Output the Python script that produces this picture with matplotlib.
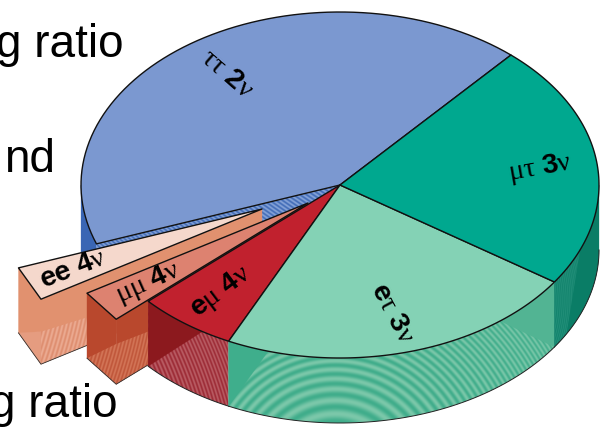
import numpy as np
import matplotlib
matplotlib.use("Agg")
import matplotlib.pyplot as plt
from matplotlib.patches import Polygon

matplotlib.rcParams.update({
    'font.family': 'Liberation Sans',
    'mathtext.fontset': 'custom',
    'mathtext.rm': 'Liberation Sans',
    'mathtext.it': 'Liberation Serif',
    'mathtext.bf': 'Liberation Sans:bold',
})

# decay channels, counter-clockwise starting at the blue slice
channels = ["tautau", "ee", "mumu", "emu", "etau", "mutau"]
fractions = [42.0, 3.2, 3.0, 6.2, 22.6, 23.0]
slice_labels = [r"$\tau\tau\ \mathbf{2}\nu$", r"$\mathbf{ee\ 4}\nu$",
                r"$\mu\mu\ \mathbf{4}\nu$", r"$\mathbf{e}\mu\ \mathbf{4}\nu$",
                r"$\mathbf{e}\tau\ \mathbf{3}\nu$", r"$\mu\tau\ \mathbf{3}\nu$"]
label_radius = [0.78, 0.81, 0.77, 0.77, 0.77, 0.78]
label_rotation = [-41, 21, 24, 37, -62, 10]
top_colors = ["#7b98d0", "#f5d8cc", "#dd8270", "#c1212e", "#84d2b5", "#00a88f"]
explode = {"ee": (-78, 24), "mumu": (-32, 18)}

CX, CY, RX, RY = 340, 185, 259, 173
DEPTH = 65
START = 48.7

angles = START + np.cumsum([0] + fractions) * 3.6
span = {name: (angles[i], angles[i + 1]) for i, name in enumerate(channels)}

fig = plt.figure(figsize=(6.05, 4.32), dpi=100)
ax = fig.add_axes([0, 0, 1, 1])
ax.axis("off")

yy, xx = np.mgrid[0:432:0.5, 0:605:0.5]


def pt(theta, shift=(0, 0), depth=0.0):
    t = np.radians(theta)
    return np.array([CX + RX * np.cos(t) + shift[0],
                     CY - RY * np.sin(t) + shift[1] + depth * DEPTH])


def arc(a, b, shift=(0, 0), depth=0.0, n=60):
    return np.array([pt(t, shift, depth) for t in np.linspace(a, b, n)])


def solid(points, color, edge=None, lw=0.9):
    ax.add_patch(Polygon(points, closed=True, facecolor=color,
                         edgecolor=edge if edge else color,
                         linewidth=lw if edge else 0.2, joinstyle='round',
                         zorder=1))


def rings(points, center, k, dark, light):
    # fine interference-like stripes painted inside a polygon
    r2 = (xx - center[0]) ** 2 + (yy - center[1]) ** 2
    w = 0.5 + 0.5 * np.sin(k * r2)
    c0 = np.array(matplotlib.colors.to_rgb(dark))
    c1 = np.array(matplotlib.colors.to_rgb(light))
    rgb = c0 + (c1 - c0) * w[..., None]
    clip = Polygon(points, closed=True, transform=ax.transData,
                   facecolor='none', edgecolor='none', zorder=1)
    ax.add_patch(clip)
    im = ax.imshow(rgb, extent=(0, 605, 432, 0), origin='upper',
                   interpolation='bilinear', aspect='auto', zorder=1)
    im.set_clip_path(clip)


def outer_wall(a, b):
    return np.vstack([arc(a, b), arc(b, a, depth=1.0)])


def wall_outline(a, b):
    bottom = arc(a, b, depth=1.0)
    ax.plot(bottom[:, 0], bottom[:, 1], color="#222222", lw=0.7, zorder=1)


def top_face(name, color, n=80):
    a, b = span[name]
    s = explode.get(name, (0, 0))
    # the pulled-out slices are thin enough to have a straight outer edge
    edge = arc(a, b, s, n=2 if name in explode else n)
    apex = np.array([CX + s[0], CY + s[1]])
    solid(np.vstack([[apex], edge]), color, edge="#111111", lw=1.0)


def lerp(p, q, t):
    return p + (q - p) * t


def pulled_slice(name, wall, left_low, stripe_low, stripe_high, tip_t, f0, f1):
    # side faces and lower stripes of one pulled-out slice
    a, b = span[name]
    s = explode[name]
    apex = np.array([CX + s[0], CY + s[1]], dtype=float)
    p1, p2 = pt(a, s), pt(b, s)
    d = np.array([0, DEPTH])
    solid([p1, p2, p2 + d, p1 + d], wall)
    solid([p2, apex, apex + d, p2 + d], wall)
    tip = lerp(p2, apex, tip_t)
    if left_low:
        solid([p1 + d, p2 + d, p2 + f0 * d], left_low)
        rings([p2 + f0 * d, tip + f1 * d, tip + d, p2 + d],
              (-300, 240), 0.0021, stripe_low, stripe_high)
    else:
        rings([p1 + d, p2 + f0 * d, tip + f1 * d, tip + d, p2 + d],
              (-300, 240), 0.0021, stripe_low, stripe_high)
    ax.plot(*np.array([p1 + d, p2 + d, tip + d]).T, color="#333333", lw=0.6,
            zorder=1)


# blue slice: outer wall at far left and the inner cut face
a, b = span["tautau"]
solid(outer_wall(180, b), "#3a66b4")
cut = [pt(b), [CX, CY], [CX, CY + DEPTH], pt(b, depth=1.0)]
rings(cut, (900, -700), 0.0008, "#3a66b4", "#8eaadc")
top_face("tautau", top_colors[0])

# pulled-out slices
pulled_slice("ee", "#e1916f", "#e59c80", "#dd8b6c", "#edae96", 0.3, 0.5, 0.6)
top_face("ee", top_colors[1])
pulled_slice("mumu", "#b9482d", None, "#bd5236", "#d67a5c", 0.17, 0.38, 0.49)
top_face("mumu", top_colors[2])

# e-mu wall
a, b = span["emu"]
rings(outer_wall(a, b), (-200, 520), 0.0021, "#992530", "#bd636a")
solid(np.vstack([arc(a, 237.9), [pt(a, depth=1.0)]]), "#8c191e")
wall_outline(a, b)
top_face("emu", top_colors[3])

# e-tau wall
a, b = span["etau"]
rings(outer_wall(a, b), (335, 480), 0.0032, "#40ad8b", "#7cc8aa")
solid(np.vstack([arc(a, 253.9), [pt(a, depth=1.0)]]), "#3fae8c")
solid(np.vstack([arc(308.2, b), [pt(b, depth=1.0)]]), "#52b493")
wall_outline(a, b)
top_face("etau", top_colors[4])

# mu-tau wall
a, b = span["mutau"]
solid(outer_wall(a, 360), "#0a7d66")
rings(np.vstack([arc(a, 338), [pt(331, depth=1.0)], [pt(a, depth=1.0)]]),
      (430, 300), 0.012, "#0a7d66", "#2b9680")
wall_outline(a, 360)
top_face("mutau", top_colors[5])

# channel names on the top faces
for i, name in enumerate(channels):
    a, b = span[name]
    s = explode.get(name, (0, 0))
    pos = pt((a + b) / 2)
    pos = np.array([CX, CY]) + (pos - np.array([CX, CY])) * label_radius[i] + s
    ax.text(pos[0], pos[1], slice_labels[i], fontsize=20.5, color="#000000",
            rotation=label_rotation[i], rotation_mode='anchor',
            ha='center', va='center')

# caption fragments around the pie
ax.text(123, 57, "g ratio", fontsize=33, ha='right', va='baseline', color="#000000")
ax.text(55, 172, "nd", fontsize=33, ha='right', va='baseline', color="#000000")
ax.text(117, 417, "g ratio", fontsize=33, ha='right', va='baseline', color="#000000")

ax.set_xlim(0, 605)
ax.set_ylim(432, 0)
fig.savefig("out.png", dpi=100, facecolor='w')
